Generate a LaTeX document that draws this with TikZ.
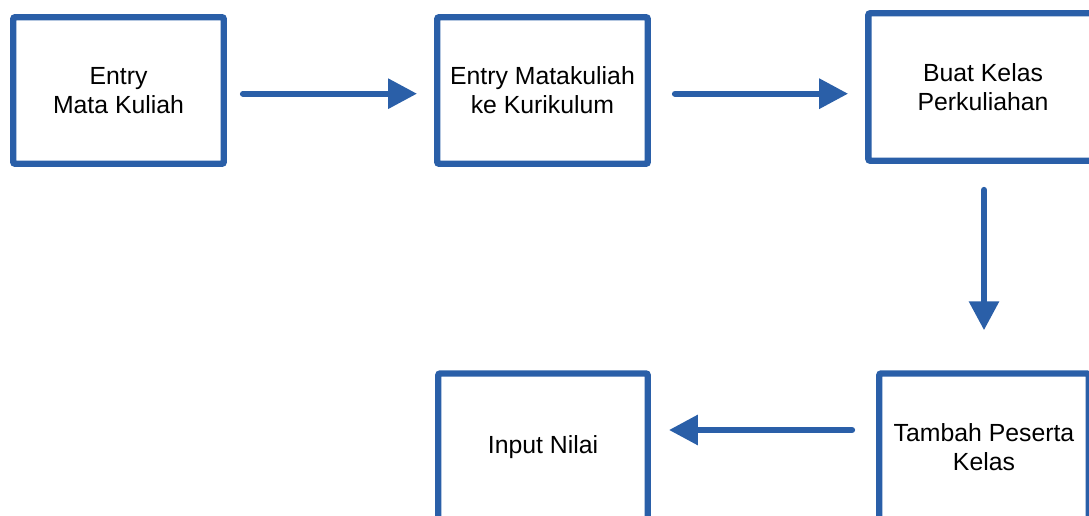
\documentclass[tikz,border=0pt]{standalone}
\usepackage{fontspec}
\setmainfont{Liberation Sans}
\usetikzlibrary{arrows.meta}
\definecolor{flowblue}{RGB}{42,95,168}
\begin{document}
\begin{tikzpicture}[x=0.75pt,y=-0.75pt,
  stepbox/.style={draw=flowblue, line width=4.8pt, rounded corners=1.5pt,
    fill=white, align=center, inner sep=0pt,
    font=\fontsize{18.6}{21.75}\selectfont},
  flowarrow/.style={draw=flowblue, line width=4.6pt, line cap=round,
    -{Triangle[length=21.75pt,width=21.75pt]}}]
  \useasboundingbox (0,0) rectangle (1089,516);
  \clip (0,0) rectangle (1089,516);

  % process steps
  \node[stepbox, minimum width=157.9pt, minimum height=109.9pt] (b1) at (118.5,90.5) {Entry\\Mata Kuliah};
  \node[stepbox, minimum width=157.9pt, minimum height=109.9pt] (b2) at (542.5,90.5) {Entry Matakuliah\\ke Kurikulum};
  \node[stepbox, minimum width=172pt, minimum height=110.6pt] (b3) at (983,87) {Buat Kelas\\Perkuliahan};
  \node[stepbox, minimum width=157.1pt, minimum height=110.3pt] (b4) at (984,447) {Tambah Peserta\\Kelas};
  \node[stepbox, minimum width=157.1pt, minimum height=110.3pt] (b5) at (543,447) {Input Nilai};

  % flow between steps
  \draw[flowarrow, shorten <=12pt, shorten >=12.75pt]
    ([yshift=-2.4pt]b1.east) -- ([yshift=-2.4pt]b2.west);
  \draw[flowarrow, shorten <=18pt, shorten >=12.75pt]
    ([yshift=-2.4pt]b2.east) -- ([yshift=-2.4pt]b2.east -| b3.west);
  \draw[flowarrow, shorten <=19.5pt, shorten >=30pt]
    ([xshift=0.75pt]b3.south) -- (b4.north);
  \draw[flowarrow, shorten <=18pt, shorten >=13.5pt]
    ([yshift=12.75pt]b4.west) -- ([yshift=12.75pt]b5.east);
\end{tikzpicture}
\end{document}
